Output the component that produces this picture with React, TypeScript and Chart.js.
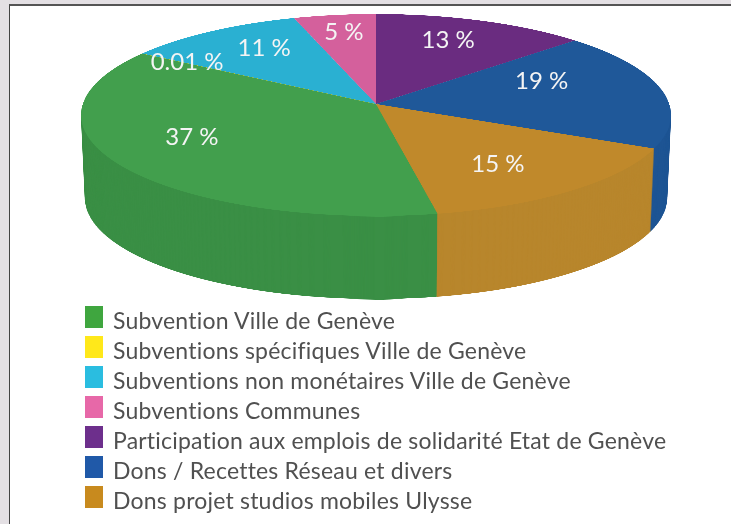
import React, { useEffect, useRef } from "react";
import { Chart, registerables } from "chart.js";

Chart.register(...registerables);

const categories = [
  "Subvention Ville de Genève",
  "Subventions spécifiques Ville de Genève",
  "Subventions non monétaires Ville de Genève",
  "Subventions Communes",
  "Participation aux emplois de solidarité Etat de Genève",
  "Dons / Recettes Réseau et divers",
  "Dons projet studios mobiles Ulysse",
];
const values = [37, 0.01, 11, 5, 13, 19, 15];
const valueLabels = ["37 %", "0.01 %", "11 %", "5 %", "13 %", "19 %", "15 %"];

const topColors = ["#429F4D", "#D8CE2A", "#2AB0D2", "#D4609C", "#6A2C80", "#1F5899", "#C0892B"];
const sideColors = ["#3A8F45", "#C0B820", "#2598B8", "#B85088", "#5A2670", "#1E5594", "#B8862C"];
const legendColors = ["#3FA63F", "#FFE81A", "#2ABDE0", "#E768A8", "#6D2F8C", "#2059A8", "#C88A1E"];
const labelNudges = [
  [-12, -7], [-27, -7], [3.5, -5], [-3, -9], [-2, -5], [-29, -12.5], [-8, 3],
];

const W = 731;
const H = 524;
// Perspective projection of the flat pie onto the page.
const CX = 376;
const CY = 104;
const FOCAL_X = 293.2;
const FOCAL_Y = 99.8;
const K = 0.109;
const DEPTH = 83;
const RIM_SHRINK = 0.013;
const SRC_R = 600;
const total = values.reduce((a, b) => a + b, 0);
const rotation = ((values[4] + values[5] + values[6]) / total) * 360;

function renderFlat(arcs: any[], colors: string[]) {
  const off = document.createElement("canvas");
  off.width = off.height = SRC_R * 2;
  const o = off.getContext("2d")!;
  arcs.forEach((arc, i) => {
    o.save();
    o.translate(SRC_R, SRC_R);
    const s = SRC_R / arc.outerRadius;
    o.scale(s, s);
    o.translate(-arc.x, -arc.y);
    const original = arc.options;
    arc.options = Object.create(original, {
      backgroundColor: { value: colors[i] },
      borderColor: { value: colors[i] },
      borderWidth: { value: original.borderWidth ? 0.7 : 0 },
    });
    arc.draw(o);
    arc.options = original;
    o.restore();
  });
  return off;
}

const zOfRow = (y: number) => -y / (FOCAL_Y + K * y);

function projectDisc(
  ctx: CanvasRenderingContext2D,
  flat: HTMLCanvasElement,
  dy: number,
  rim: number,
  frontOnly: boolean,
) {
  const yMin = frontOnly ? 0 : Math.floor(-FOCAL_Y / (1 + K)) - 1;
  const yMax = Math.ceil(FOCAL_Y / (1 - K)) + 1;
  for (let y = yMin; y < yMax; y++) {
    const z0 = Math.max(-1, Math.min(1, zOfRow(y)));
    const z1 = Math.max(-1, Math.min(1, zOfRow(y + 1)));
    if (z0 === z1) continue;
    const zc = zOfRow(y + 0.5);
    const half = (FOCAL_X * rim) / (1 + K * zc);
    ctx.drawImage(
      flat,
      0, SRC_R * (1 - z0), SRC_R * 2, SRC_R * (z0 - z1),
      CX - half, CY + dy + y, half * 2, 1,
    );
  }
}

const projectedPie = {
  id: "projectedPie",
  beforeDatasetsDraw(chart: any) {
    const ctx: CanvasRenderingContext2D = chart.ctx;
    const arcs = chart.getDatasetMeta(0).data;
    const flatTop = renderFlat(arcs, topColors);
    const flatSide = renderFlat(arcs, sideColors);
    for (let d = DEPTH; d > 0; d--) {
      projectDisc(ctx, flatSide, d, 1 - (RIM_SHRINK * d) / DEPTH, true);
    }
    projectDisc(ctx, flatTop, 0, 1, false);

    ctx.save();
    ctx.fillStyle = "#F4F4F4";
    ctx.font = '400 24px "Lato", sans-serif';
    ctx.textAlign = "center";
    ctx.textBaseline = "middle";
    arcs.forEach((arc: any, i: number) => {
      const mid = (arc.startAngle + arc.endAngle) / 2;
      const X = 0.68 * Math.cos(mid);
      const Z = -0.68 * Math.sin(mid);
      const den = 1 + K * Z;
      const x = CX + (FOCAL_X * X) / den + labelNudges[i][0];
      const y = CY - (FOCAL_Y * Z) / den + labelNudges[i][1];
      ctx.fillText(valueLabels[i], x, y);
    });
    ctx.restore();
    return false;
  },
};

export default function App() {
  const ref = useRef<HTMLCanvasElement>(null);
  useEffect(() => {
    document.body.style.margin = "0";
    const chart = new Chart(ref.current!, {
      type: "pie",
      data: {
        labels: categories,
        datasets: [
          {
            data: values,
            backgroundColor: topColors,
            borderColor: topColors,
            borderWidth: values.map((v) => (v < 1 ? 1 : 0)),
          },
        ],
      },
      options: {
        responsive: false,
        animation: false,
        rotation,
        plugins: { legend: { display: false }, tooltip: { enabled: false } },
      },
      plugins: [projectedPie],
    });
    return () => chart.destroy();
  }, []);

  return (
    <div style={{ position: "relative", width: W, height: H, background: "#E4E0E4", overflow: "hidden" }}>
      <div
        style={{
          position: "absolute", left: 9, top: 4, right: 0, bottom: 0, background: "#fff",
          borderLeft: "1px solid #444", borderTop: "2px solid #555",
        }}
      />
      <canvas
        ref={ref}
        width={W}
        height={H}
        style={{ position: "absolute", left: 0, top: 0, width: W, height: H, filter: "blur(0.5px)" }}
      />
      <div style={{ position: "absolute", left: 85, top: 305, filter: "blur(0.5px)" }}>
        {categories.map((c, i) => (
          <div key={c} style={{ display: "flex", alignItems: "center", height: 30 }}>
            <span
              style={{
                width: 18, height: 22, background: legendColors[i], display: "inline-block",
                marginRight: 10, transform: "translateY(-3px)",
              }}
            />
            <span
              style={{
                font: '400 23px "Lato", sans-serif', letterSpacing: 0.2, color: "#505050", whiteSpace: "nowrap",
              }}
            >
              {c}
            </span>
          </div>
        ))}
      </div>
    </div>
  );
}
